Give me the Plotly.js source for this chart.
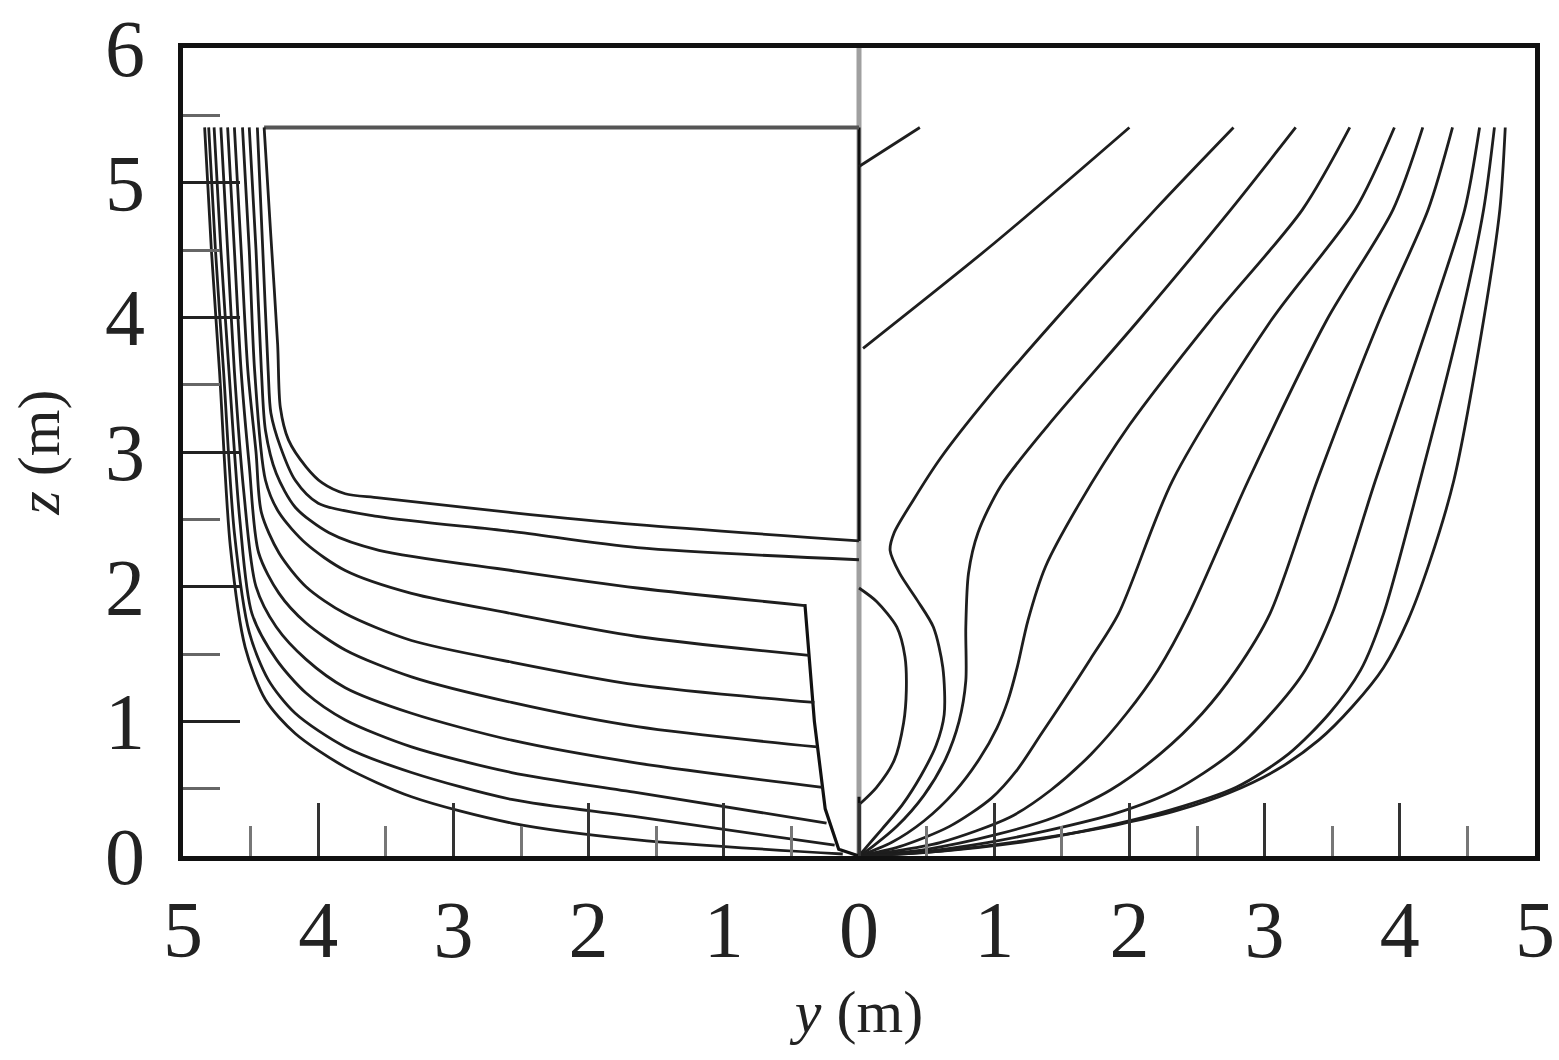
<!DOCTYPE html>
<html>
<head>
<meta charset="utf-8">
<script src="https://cdn.plot.ly/plotly-3.0.1.min.js"></script>
<style>html,body{margin:0;padding:0;background:#fff;}#plot{width:1559px;height:1060px;}</style>
</head>
<body>
<div id="plot"></div>
<script>
// Aft-body stations (left half, y < 0), pairs [y, z] in metres
const aftA = [[-4.40,5.41],[-4.35,4.6],[-4.30,3.8],[-4.28,3.33],[-4.22,3.09],[-4.09,2.89],[-3.97,2.77],[-3.80,2.69],[-3.55,2.66],[-2.57,2.55],[-1.64,2.46],[0,2.34]];
const aftB = [[-4.45,5.41],[-4.41,4.5],[-4.37,3.6],[-4.35,3.29],[-4.28,3.04],[-4.17,2.79],[-4.00,2.62],[-3.55,2.52],[-2.57,2.41],[-1.64,2.29],[0,2.20]];
const aftC = [[-4.51,5.41],[-4.46,4.5],[-4.42,3.6],[-4.39,3.16],[-4.31,2.84],[-4.17,2.59],[-3.92,2.40],[-3.55,2.27],[-2.57,2.12],[-1.64,1.99],[-0.40,1.86]];
const aftD = [[-4.56,5.41],[-4.51,4.5],[-4.47,3.6],[-4.39,2.79],[-4.29,2.55],[-4.09,2.32],[-3.80,2.12],[-3.31,1.95],[-2.57,1.80],[-1.64,1.63],[-0.37,1.49]];
const aftE = [[-4.62,5.41],[-4.57,4.5],[-4.52,3.6],[-4.46,3.0],[-4.42,2.55],[-4.29,2.25],[-4.09,2.00],[-3.80,1.80],[-3.31,1.60],[-2.57,1.44],[-1.64,1.27],[-0.33,1.14]];
const aftF = [[-4.67,5.41],[-4.62,4.5],[-4.57,3.6],[-4.51,2.9],[-4.44,2.25],[-4.29,1.95],[-4.09,1.73],[-3.80,1.53],[-3.31,1.33],[-2.57,1.14],[-1.64,0.96],[-0.31,0.81]];
const aftG = [[-4.72,5.41],[-4.67,4.5],[-4.62,3.6],[-4.55,2.7],[-4.46,2.00],[-4.31,1.70],[-4.09,1.46],[-3.80,1.25],[-3.31,1.06],[-2.57,0.86],[-1.64,0.69],[-0.27,0.51]];
const aftH = [[-4.77,5.41],[-4.72,4.5],[-4.66,3.6],[-4.58,2.5],[-4.49,1.80],[-4.31,1.46],[-4.09,1.21],[-3.80,1.01],[-3.31,0.81],[-2.57,0.62],[-1.64,0.47],[-0.24,0.245]];
const aftI = [[-4.81,5.41],[-4.76,4.5],[-4.70,3.6],[-4.62,2.4],[-4.51,1.66],[-4.37,1.31],[-4.17,1.06],[-3.80,0.81],[-3.31,0.62],[-2.57,0.42],[-1.64,0.29],[-0.18,0.08]];
const aftJ = [[-4.84,5.41],[-4.79,4.5],[-4.73,3.6],[-4.65,2.3],[-4.54,1.55],[-4.39,1.16],[-4.17,0.91],[-3.80,0.66],[-3.31,0.44],[-2.57,0.245],[-1.64,0.12],[-0.12,0.015]];
const skeg = [[-0.40,1.87],[-0.33,1.0],[-0.25,0.35],[-0.15,0.05],[0,0]];
const transomTop = [[-4.40,5.41],[0,5.41]];
const centerBlackUpper = [[0,5.41],[0,2.34]];
const centerBlackLower = [[0,0.44],[0,0]];
const centerLine = [[0,0],[0,6]];

// Fore-body stations (right half, y > 0)
const foreR0 = [[0,5.12],[0.45,5.41]];
const foreR1 = [[0.03,3.77],[1.0,4.55],[2.0,5.41]];
const foreR2 = [[2.77,5.41],[2.19,4.80],[1.45,3.98],[0.95,3.40],[0.60,2.95],[0.40,2.64],[0.26,2.40],[0.23,2.27],[0.30,2.10],[0.43,1.90],[0.55,1.70],[0.62,1.40],[0.63,1.05],[0.57,0.82],[0.46,0.60],[0.32,0.38],[0.17,0.20],[0.05,0.06],[0,0]];
const foreR3 = [[3.23,5.41],[2.75,4.80],[2.07,3.98],[1.40,3.20],[1.05,2.75],[0.88,2.40],[0.81,2.10],[0.79,1.70],[0.79,1.30],[0.74,1.00],[0.64,0.72],[0.48,0.45],[0.28,0.22],[0.10,0.07],[0,0]];
const foreR4 = [[3.63,5.41],[3.28,4.80],[2.60,3.98],[2.00,3.20],[1.62,2.60],[1.38,2.15],[1.25,1.75],[1.17,1.40],[1.10,1.15],[1.02,0.95],[0.89,0.72],[0.71,0.48],[0.48,0.26],[0.24,0.10],[0,0]];
const foreR5 = [[3.96,5.41],[3.67,4.80],[3.05,3.98],[2.32,2.79],[1.92,1.80],[1.71,1.46],[1.53,1.18],[1.35,0.91],[1.17,0.64],[0.98,0.43],[0.67,0.22],[0.30,0.07],[0,0]];
const foreR6 = [[4.17,5.41],[3.95,4.80],[3.46,3.98],[2.88,2.79],[2.44,1.80],[2.21,1.38],[1.98,1.06],[1.72,0.76],[1.42,0.49],[1.12,0.29],[0.60,0.10],[0.22,0.03],[0,0]];
const foreR7 = [[4.39,5.41],[4.21,4.80],[3.85,3.98],[3.39,2.79],[3.04,1.80],[2.79,1.38],[2.54,1.06],[2.23,0.76],[1.86,0.49],[1.45,0.29],[1.02,0.16],[0.5,0.05],[0,0]];
const foreR8 = [[4.59,5.41],[4.48,4.80],[4.22,3.98],[3.82,2.79],[3.50,1.80],[3.30,1.38],[3.05,1.06],[2.75,0.76],[2.34,0.49],[1.91,0.32],[1.40,0.19],[0.95,0.10],[0.45,0.03],[0,0]];
const foreR9 = [[4.70,5.41],[4.62,4.80],[4.45,3.98],[4.15,2.79],[3.88,1.80],[3.71,1.38],[3.48,1.06],[3.18,0.76],[2.79,0.51],[2.30,0.34],[1.78,0.21],[1.25,0.11],[0.6,0.035],[0,0]];
const foreR10 = [[4.78,5.41],[4.74,4.80],[4.62,3.98],[4.40,2.79],[4.22,2.18],[4.06,1.75],[3.88,1.40],[3.65,1.11],[3.40,0.86],[3.09,0.64],[2.74,0.47],[2.36,0.34],[1.90,0.23],[1.40,0.14],[0.9,0.07],[0.4,0.02],[0,0]];
const bulb = [[0,1.99],[0.13,1.89],[0.28,1.70],[0.34,1.48],[0.35,1.23],[0.33,0.99],[0.26,0.71],[0.13,0.51],[0.01,0.39]];

// Axis ticks
const xTickVals = [-5,-4,-3,-2,-1,0,1,2,3,4,5];
const xTickText = ['5','4','3','2','1','0','1','2','3','4','5'];
const yTickVals = [0,1,2,3,4,5,6];
const yTickText = ['0','1','2','3','4','5','6'];

function tr(pts, color, width, shape){
  return {
    x: pts.map(p => p[0]), y: pts.map(p => p[1]),
    type: 'scatter', mode: 'lines', hoverinfo: 'skip', showlegend: false,
    line: {color: color, width: width, shape: shape || 'spline', smoothing: 0.8}
  };
}
const curveColor = '#1e1e1e';
const cw = 2.8;
const traces = [
  tr(centerLine, '#a0a0a0', 5, 'linear'),
  tr(centerBlackUpper, '#111', 3, 'linear'),
  tr(centerBlackLower, '#111', 3, 'linear'),
  tr(transomTop, '#555', 4, 'linear'),
  tr(skeg, '#111', 3.2, 'linear')
];
[aftA, aftB, aftC, aftD, aftE, aftF, aftG, aftH, aftI, aftJ].forEach(s => traces.push(tr(s, curveColor, cw)));
[foreR0, foreR1, foreR2, foreR3, foreR4, foreR5, foreR6, foreR7, foreR8, foreR9, foreR10, bulb].forEach(s => traces.push(tr(s, curveColor, cw)));

const font = 'Liberation Serif, Times New Roman, serif';
const layout = {
  width: 1559, height: 1060,
  margin: {l: 183, r: 24, t: 48, b: 204},
  paper_bgcolor: '#fff', plot_bgcolor: '#fff',
  showlegend: false,
  font: {family: font, color: '#222'},
  xaxis: {
    range: [-5, 5], tickmode: 'array', tickvals: xTickVals, ticktext: xTickText,
    ticks: 'inside', ticklen: 53, tickwidth: 3, tickcolor: '#333',
    minor: {dtick: 0.5, tick0: 0, ticks: 'inside', ticklen: 30, tickwidth: 3, tickcolor: '#777'},
    showline: true, linewidth: 5, linecolor: '#111', mirror: true,
    showgrid: false, zeroline: false,
    tickfont: {family: font, size: 80, color: '#222'},
    ticklabelstandoff: 0,
    title: {text: '<i>y</i> (m)', font: {family: font, size: 60, color: '#222'}, standoff: 18},
    automargin: false
  },
  yaxis: {
    range: [0, 6], tickmode: 'array', tickvals: yTickVals, ticktext: yTickText,
    ticks: 'inside', ticklen: 57, tickwidth: 3, tickcolor: '#222',
    minor: {dtick: 0.5, tick0: 0, ticks: 'inside', ticklen: 37, tickwidth: 3, tickcolor: '#666'},
    showline: true, linewidth: 5, linecolor: '#111', mirror: true,
    showgrid: false, zeroline: false,
    tickfont: {family: font, size: 80, color: '#222'},
    ticklabelstandoff: 17,
    title: {text: '<i>z</i> (m)', font: {family: font, size: 60, color: '#222'}, standoff: 28},
    automargin: false
  }
};
Plotly.newPlot('plot', traces, layout, {staticPlot: true, displayModeBar: false});
</script>
</body>
</html>
